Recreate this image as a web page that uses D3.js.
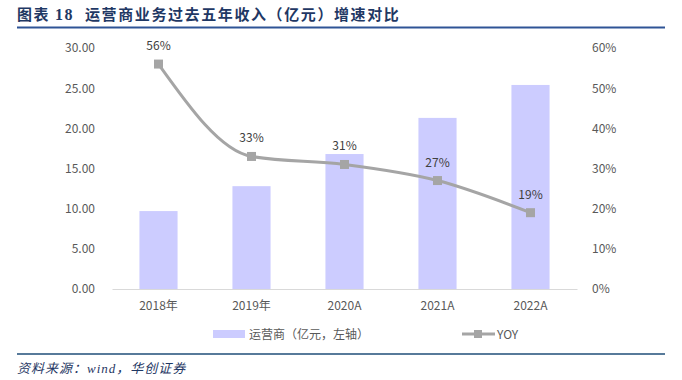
<!DOCTYPE html>
<html>
<head>
<meta charset="utf-8">
<script src="https://cdn.jsdelivr.net/npm/d3@7"></script>
<style>
  body { margin: 0; background: #fff; }
  svg { display: block; font-family: "Noto Sans CJK SC", "Noto Sans", sans-serif; }
</style>
</head>
<body>
<div id="chart"></div>
<script>
// revenue (亿元) and growth for the operator business
const years = ['2018年', '2019年', '2020A', '2021A', '2022A'];
const revenue = [9.7, 12.8, 16.8, 21.3, 25.4];
const yoy = [0.56, 0.33, 0.31, 0.27, 0.19];
const leftTicks = [0, 5, 10, 15, 20, 25, 30];
const rightTicks = [0, 0.1, 0.2, 0.3, 0.4, 0.5, 0.6];

const width = 682, height = 380;
const margin = { top: 48, right: 105, bottom: 91, left: 112 };

const svg = d3.select('#chart').append('svg')
  .attr('width', width).attr('height', height);

// title + rule
const title = svg.append('text')
  .attr('x', 17).attr('y', 20)
  .style('font-size', '15px').style('font-weight', 'bold')
  .style('letter-spacing', '1.6px')
  .attr('fill', '#1f3864');
title.append('tspan').text('图表');
title.append('tspan').attr('x', 55)
  .style('font-family', '"Liberation Serif", "DejaVu Serif", serif')
  .style('font-size', '16px')
  .text('18');
title.append('tspan').attr('x', 85).text('运营商业务过去五年收入（亿元）增速对比');
svg.append('line')
  .attr('x1', 17).attr('x2', 665).attr('y1', 27.5).attr('y2', 27.5)
  .attr('stroke', '#2f5496').attr('stroke-width', 2);

const x = d3.scaleBand().domain(years)
  .range([margin.left, width - margin.right]).paddingInner(0.59).paddingOuter(0.295);
const yL = d3.scaleLinear().domain([0, 30]).range([height - margin.bottom, margin.top]);
const yR = d3.scaleLinear().domain([0, 0.6]).range([height - margin.bottom, margin.top]);

// left axis
const axL = svg.append('g')
  .attr('transform', `translate(${margin.left - 14},0)`)
  .call(d3.axisLeft(yL).tickValues(leftTicks).tickFormat(d3.format('.2f')).tickSize(0));
axL.select('.domain').remove();

// right axis
const axR = svg.append('g')
  .attr('transform', `translate(${width - margin.right + 12},0)`)
  .call(d3.axisRight(yR).tickValues(rightTicks).tickFormat(d3.format('.0%')).tickSize(0));
axR.select('.domain').remove();

// x axis
const axX = svg.append('g')
  .attr('transform', `translate(0,${height - margin.bottom})`)
  .call(d3.axisBottom(x).tickSize(0).tickPadding(12));
axX.select('.domain').attr('stroke', '#d9d9d9');

svg.selectAll('.tick text')
  .style('font-size', '12px')
  .style('font-family', '"Noto Sans CJK SC", Roboto, sans-serif')
  .attr('fill', '#595959');

// bars
svg.append('g').selectAll('rect')
  .data(revenue)
  .join('rect')
  .attr('x', (d, i) => x(years[i]))
  .attr('width', x.bandwidth())
  .attr('y', d => yL(d))
  .attr('height', d => yL(0) - yL(d))
  .attr('fill', '#ccccff');

// keep the domain line above bars
axX.raise();

// yoy line
const cx = i => x(years[i]) + x.bandwidth() / 2;
const line = d3.line()
  .x((d, i) => cx(i))
  .y(d => yR(d))
  .curve(d3.curveMonotoneX);

svg.append('path')
  .datum(yoy)
  .attr('d', line)
  .attr('fill', 'none')
  .attr('stroke', '#a5a5a5')
  .attr('stroke-width', 3);

svg.append('g').selectAll('rect')
  .data(yoy)
  .join('rect')
  .attr('x', (d, i) => cx(i) - 4.5)
  .attr('y', d => yR(d) - 4.5)
  .attr('width', 9).attr('height', 9)
  .attr('fill', '#a5a5a5');

svg.append('g').selectAll('text')
  .data(yoy)
  .join('text')
  .attr('x', (d, i) => cx(i))
  .attr('y', d => yR(d) - 14)
  .attr('text-anchor', 'middle')
  .style('font-size', '12px')
  .attr('fill', '#404040')
  .text(d => d3.format('.0%')(d));

// legend
const lg = svg.append('g');
lg.append('rect')
  .attr('x', 213).attr('y', 330).attr('width', 32).attr('height', 8)
  .attr('fill', '#ccccff');
lg.append('text')
  .attr('x', 249).attr('y', 339)
  .style('font-size', '12px').attr('fill', '#595959')
  .text('运营商（亿元，左轴）');
lg.append('line')
  .attr('x1', 462).attr('x2', 495).attr('y1', 334).attr('y2', 334)
  .attr('stroke', '#a5a5a5').attr('stroke-width', 3);
lg.append('rect')
  .attr('x', 474).attr('y', 330).attr('width', 8).attr('height', 8)
  .attr('fill', '#a5a5a5');
lg.append('text')
  .attr('x', 497).attr('y', 339)
  .style('font-size', '12px').attr('fill', '#595959')
  .text('YOY');

// footer
svg.append('line')
  .attr('x1', 17).attr('x2', 665).attr('y1', 354).attr('y2', 354)
  .attr('stroke', '#1f4e79').attr('stroke-width', 1.5);
const foot = svg.append('text')
  .attr('x', 17).attr('y', 373)
  .style('font-size', '13px').style('font-style', 'italic')
  .style('letter-spacing', '1px')
  .attr('fill', '#1f3864');
foot.append('tspan').text('资料来源：');
foot.append('tspan').style('font-family', '"Liberation Serif", serif').text('wind');
foot.append('tspan').text('，华创证券');
</script>
</body>
</html>
